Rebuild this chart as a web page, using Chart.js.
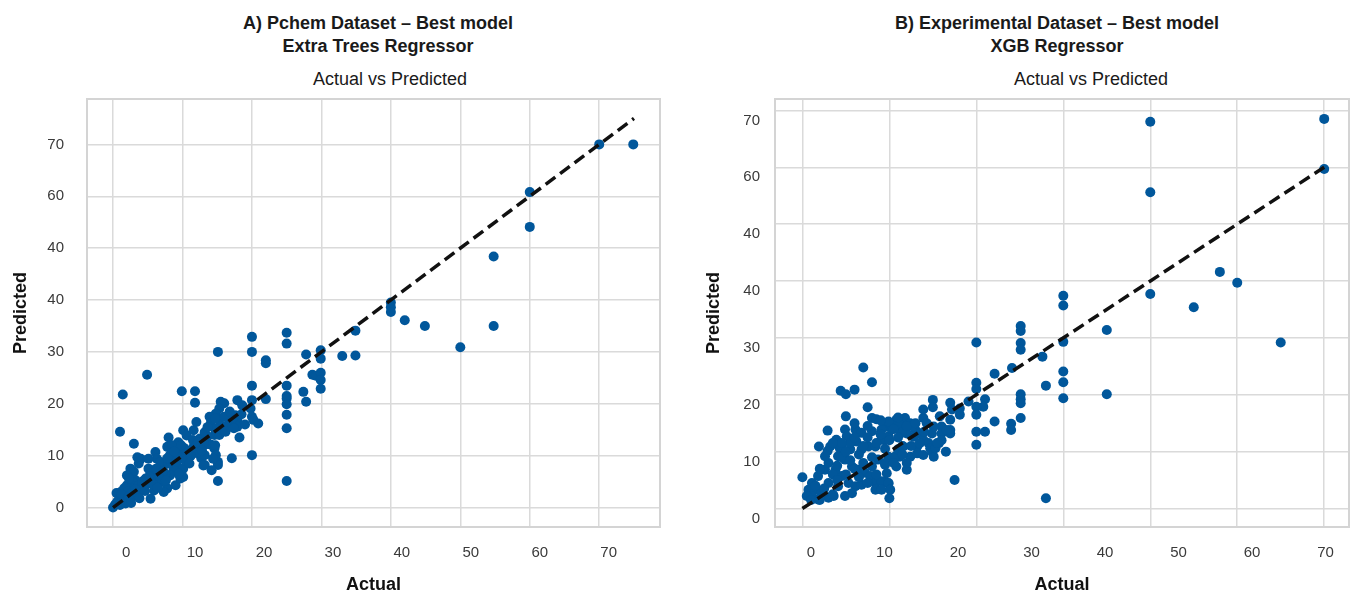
<!DOCTYPE html>
<html>
<head>
<meta charset="utf-8">
<script src="https://cdn.jsdelivr.net/npm/chart.js@4.4.1/dist/chart.umd.min.js"></script>
<style>
  html, body { margin: 0; padding: 0; background: #fff; }
  body { width: 1354px; height: 596px; position: relative; overflow: hidden; font-family: 'Liberation Sans', Arial, sans-serif; }
  canvas { position: absolute; top: 0; }
  .ttl { position: absolute; transform: translateX(-50%); white-space: nowrap; text-align: center; color: #1a1a1a; font-size: 18px; line-height: 23px; }
  .b { font-weight: bold; }
</style>
</head>
<body>
<div class="ttl b" style="left:378px; top:12px;">A) Pchem Dataset – Best model<br>Extra Trees Regressor</div>
<div class="ttl" style="left:390px; top:68px;">Actual vs Predicted</div>
<div class="ttl b" style="left:1057px; top:12px;">B) Experimental Dataset – Best model<br>XGB Regressor</div>
<div class="ttl" style="left:1091px; top:68px;">Actual vs Predicted</div>
<canvas id="cA" width="677" height="596" style="left:0px;"></canvas>
<canvas id="cB" width="677" height="596" style="left:677px;"></canvas>
<script>
// ---------- Panel A: Pchem dataset (Extra Trees Regressor) ----------
const pchemActual = [
  70, 74.9, 60, 60, 54.8, 54.8, 50, 44.9, 42, 40, 40, 40, 34.9, 34.9, 33,
  25, 25, 20, 20, 15.1, 22, 22, 27.8, 29.9, 29.9, 28.7, 29.2, 29.9, 29.9, 29.9,
  27.4, 27.8, 25, 25, 25, 25, 25, 25, 25, 20, 20, 22, 19.8, 20, 20.9, 20.2, 20,
  17.9, 18.6, 17.9, 17.9, 17.6, 15.5, 16, 15.3, 14.8, 15, 17.1, 15.1, 15.1, 15.1,
  13.2, 13.9, 14.1, 14.6, 14.8, 12.7, 13.2, 13.6, 13.2, 14.1, 14.6, 14.8, 15.3,
  15.8, 15.5, 16.2, 16.5, 16.9, 17.2, 17.4,
  4.9, 1.4, 9.9, 11.8, 11.8, 1, 3, 8, 6.1, 4, 3.7, 2.5, 3, 2, 5.1, 5.9, 6.6,
  7.8, 8.2, 9.4, 10.1, 10.6, 11.6, 12, 12.5, 11.6, 10.6, 9.9, 9.2, 8.7, 10.1, 13,
  14.2, 14.4, 14.7, 14.7, 14.7, 5.4, 7.8, 9, 9.7, 10.1, 9.4, 0, 0.6, 0.9, 1.1,
  1.6, 2, 1.3, 1.8, 2.5, 3, 3.5, 4, 4.4, 4.9, 4.7, 4, 3.2, 2.8, 2.3, 3, 3.7, 5.9,
  6.3, 7, 7.3, 8.2, 7.3, 6.3, 6.8, 5.1, 3.5,
  0.5, 1.5, 2.2, 0.3, 1, 2.7, 5.5, 6, 6.5, 7.5, 8, 9, 10.5, 11, 12, 11.5, 13, 12, 9.5, 8.5,
  1.2, 2.2, 3.2, 4.2, 5.2, 6.2, 7.2, 8.2, 9.2, 10.2, 11.2, 12.2, 13.2, 12.8, 11, 9.8,
  8.8, 7.8, 6.8, 5.8, 4.6, 3.8, 2.6, 6.4, 7.6, 13.6, 16, 16.8, 18.5, 19, 18.2
];
const pchemPredicted = [
  70, 70, 60.8, 54.1, 48.4, 35, 30.9, 35, 36.1, 39.5, 38.6, 37.7, 34.1, 29.3, 29.2,
  33.7, 31.6, 32.9, 30, 30, 28.4, 27.8, 29.5, 30.3, 28.7, 25.6, 25.4, 26, 24.6, 22.9,
  22.3, 20.4, 23.5, 21.5, 21, 19.9, 17.9, 15.3, 5.1, 23.5, 20.7, 20.9, 19.1, 17.5, 16.2, 16.9, 10.1,
  20.7, 19.7, 16.9, 15.6, 17.8, 20.4, 20.1, 19.1, 18.1, 17.2, 9.5, 8.8, 8.2, 5.1,
  8.2, 17.5, 16.4, 11.4, 10.1, 9.5, 12.1, 13.7, 10.1, 12.1, 14, 14.6, 14,
  14.9, 15.9, 14.6, 15.9, 16.5, 17.2, 15.3,
  25.6, 21.8, 22.4, 22.4, 20.2, 14.6, 12.3, 13.5, 10.7, 9.4, 8.5, 7.5, 6.9, 6.2, 7.5, 6.9, 6.2,
  11.7, 10.1, 12.6, 14.9, 13.9, 14.9, 16.5, 13.3, 11.7, 10.7, 9.4, 8.1, 7.2, 7.5, 8.1,
  7.2, 9.4, 12, 15.2, 17.1, 1.7, 3.7, 4.3, 5.6, 5.9, 6.5, 0, 1.1, 2.1, 3,
  3.7, 4.3, 1.4, 0.8, 1.7, 2.4, 3, 3.3, 4, 4.6, 5.6, 4.6, 5.3, 4.9, 5.6, 3.7, 4.3, 3.3,
  4.3, 4.9, 3, 6.2, 8.1, 9.4, 8.8, 9.4, 9.7,
  2.8, 2.2, 3.1, 0.6, 0.5, 2.9, 5, 5.5, 7, 6.5, 8.5, 9.5, 9, 11, 10.5, 13, 12.5, 12, 11, 12,
  2.5, 2, 3.5, 5, 6, 7.5, 7, 9, 10.5, 11.5, 10, 12.5, 14.5, 11, 8.5, 12,
  10.8, 9.5, 5.5, 4.5, 3.2, 1.8, 0.9, 3.8, 5.2, 15.5, 17.5, 18.5, 18, 16, 13.5
];
const pchemIdentity = [0, 75];
const gridTicksA = [0, 10, 20, 30, 40, 50, 60, 70];
const xTickLabelsA = ['0', '10', '20', '30', '40', '50', '60', '70'];
const yTickLabelsA = ['0', '10', '20', '30', '40', '40', '60', '70'];

// ---------- Panel B: Experimental dataset (XGB Regressor) ----------
const expActual = [
  60, 60, 40, 40, 48, 50, 40, 45, 30, 30, 35, 30, 27.6, 55, 30, 30, 30, 28, 35, 28,
  25.1, 25.1, 25.1, 25.1, 20, 24.1, 22.1, 20, 20, 25.1, 25.1, 25.1, 25.1, 21, 20.8,
  19.1, 20, 20, 20, 20, 21, 22.1, 24, 24, 18.1, 18.1, 17, 17, 17, 15, 15, 17.5, 10,
  15.8, 16, 14.9, 15.1, 13.9, 12.8, 12, 9.5, 9.9,
  10.8, 11.2, 11.8, 12.4, 13, 13.5, 13.9, 14.5, 14.9, 15.1, 14.3, 13.2, 11.6, 11.2, 10.5,
  10.8, 12.4, 13.2, 13.9, 14.7, 15.3, 15.7, 16, 16.6, 17, 17.2, 13.9, 12.8, 12, 9.7, 9.3, 9.9, 9.7,
  7, 8, 4.4, 5, 6, 7.5, 8, 8.5, 5, 2.9, 1.9, 2.9, 0,
  4.9, 6.1, 5.1, 6.8, 8, 6.2, 4.3, 5.5, 6.8, 7.6, 8.4, 9.1, 9.9, 10.3, 10.7, 11.2, 9.9, 9.1, 11.4,
  4.1, 4.9, 5.7, 6.4, 7.2, 7.8, 8.4, 9.1, 9.9, 2.6, 3, 1.8, 1.1, 0.7, 1.5, 2.2, 3, 1.8, 1.1, 0.5,
  4.5, 5.3, 6.1, 6.8, 4.1, 3.6, 4.9, 5.7, 8, 9.5, 10.7, 11, 8.7, 3.8, 4.5, 3.9, 3.2, 2.6, 8.4, 9.1, 10.1,
  3.5, 4, 4.5, 5, 5.5, 6, 6.5, 7, 7.5, 8, 8.5, 9, 9.5, 10, 10.5, 11, 11.5, 12, 7, 6, 5, 4, 3, 2.5,
  8.5, 9.5, 10.5, 11.5, 12.5, 13.5, 6.5, 7.5, 5.5, 4.5, 3.5, 7.5, 6, 9, 11, 13, 16, 16.5, 15.5, 14, 12,
  2, 1.5, 1, 2, 3.5
];
const expPredicted = [
  68.5, 59.7, 68, 55.6, 41.6, 39.7, 37.7, 35.4, 37.4, 35.7, 31.4, 29.3, 26.7, 29.2, 24.1, 22.2, 19.4, 21.6, 20.1, 1.8,
  32.1, 31.2, 29.1, 27.9, 29.2, 24.7, 23.7, 22.1, 21, 20.1, 19.2, 18.5, 15.9, 19.2, 17.9,
  18.8, 17.9, 16.5, 13.5, 11.2, 13.5, 15.3, 14.9, 13.8, 17.6, 16.5, 18.6, 13.8, 13.2, 19.1, 17.8, 5, 1.8,
  16.2, 14.4, 10, 9.1, 15.9, 14.4, 6.8, 4.7, 4.4,
  15.6, 14.4, 15.9, 15, 13.8, 13.2, 12.1, 11.5, 13.2, 14.4, 15, 10.9, 10.9, 9.1, 8.5,
  7.4, 9.1, 9.7, 9.4, 10.6, 10.6, 11.5, 13.2, 13.8, 15.6, 17.4, 17.4, 12.6, 13.2, 14.4, 12.1, 9.1, 6.2,
  24.8, 22.2, 20.7, 20.1, 20.9, 17.8, 15.9, 15.7, 16.2, 13.7, 10.9, 10.1, 5.5,
  13.9, 13.9, 12.7, 13.3, 13.6, 11.8, 10.6, 10.4, 10.4, 10.9, 10.9, 12.1, 12.7, 13.9, 15, 14.7, 15.3, 13.9, 13.3,
  9.2, 8.6, 7.4, 6.8, 6.3, 5.7, 4.5, 4.8, 4.5, 6.8, 8, 5.7, 4.5, 3.3, 3.3, 2.7, 1.9, 1.6, 2.2, 2.2,
  5.7, 4.5, 3.9, 4.2, 3.9, 2.2, 2.2, 2.7, 7.4, 7.7, 9.2, 10.4, 8.6, 6.8, 10.9, 12.1, 10.9, 9.2, 3.3, 3.3, 3.3,
  6, 7.5, 9, 10, 11.5, 12.5, 9.5, 11, 12.5, 9, 11.5, 13, 10.5, 12, 14, 12.5, 11, 14.5, 8, 7, 6, 5, 4.5, 3.5,
  6, 8, 8, 9.5, 11, 11.5, 5.5, 4.5, 8.5, 11.5, 11.5, 14.5, 15, 15.5, 16, 15, 12, 10, 11.5, 13.5, 8,
  7, 4, 1.5, 1.5, 2.5
];
const expIdentity = [0, 60];
const gridTicksBx = [0, 10, 20, 30, 40, 50, 60];
const gridTicksBy = [0, 10, 20, 30, 40, 50, 60, 70];
const labelTicksB = [0, 10, 20, 30, 40, 50, 60, 70];
const xTickLabelsB = ['0', '10', '20', '30', '40', '50', '60', '70'];
const yTickLabelsB = ['0', '10', '20', '30', '40', '40', '60', '70'];

// ---------- styling ----------
const BLUE = '#01579b';
const GRID = '#dadada';
const TICK = '#3a3a3a';
Chart.defaults.font.family = "'Liberation Sans', Arial, sans-serif";

const frame = {
  id: 'frame',
  beforeDatasetsDraw(chart) {
    const a = chart.chartArea, c = chart.ctx;
    c.save();
    c.strokeStyle = '#d4d4d4';
    c.lineWidth = 2;
    c.strokeRect(a.left, a.top, a.right - a.left, a.bottom - a.top);
    c.restore();
  }
};

function pts(xs, ys) { return xs.map((x, i) => ({ x: x, y: ys[i] })); }
function setTicks(vals) { return s => { s.ticks = vals.map(v => ({ value: v })); }; }

function makeChart(id, cfg) {
  return new Chart(document.getElementById(id), {
    type: 'scatter',
    data: {
      datasets: [
        { type: 'line', data: pts(cfg.identity, cfg.identity), borderColor: '#111', borderWidth: 3.5,
          borderDash: [12, 6], pointRadius: 0, fill: false, order: 0 },
        { data: pts(cfg.xs, cfg.ys), backgroundColor: BLUE, borderWidth: 0, pointRadius: 5, order: 1 }
      ]
    },
    options: {
      responsive: false,
      animation: false,
      events: [],
      layout: { padding: { top: 99, right: cfg.padRight, bottom: 0, left: 0 } },
      plugins: { legend: { display: false }, tooltip: { enabled: false } },
      scales: {
        x: {
          type: 'linear', position: 'bottom', min: cfg.xMin, max: cfg.xMax,
          afterBuildTicks: setTicks(cfg.gridX),
          ticks: { display: false },
          grid: { color: GRID, lineWidth: 1.5, drawTicks: false },
          border: { display: false },
          afterFit: s => { s.height = 0; }
        },
        xl: {
          type: 'linear', position: 'bottom', min: cfg.xlMin, max: cfg.xlMax,
          afterBuildTicks: setTicks(cfg.labelX),
          ticks: { callback: (v, i) => cfg.xLabels[i], padding: 17, color: TICK, font: { size: 15 }, maxRotation: 0, autoSkip: false },
          grid: { display: false, drawTicks: false },
          border: { display: false },
          title: { display: true, text: 'Actual', color: '#111', font: { size: 18, weight: 'bold' }, padding: { top: 0, bottom: 0 } },
          afterFit: s => { s.height = 69; }
        },
        y: {
          type: 'linear', position: 'left', min: cfg.yMin, max: cfg.yMax,
          afterBuildTicks: setTicks(cfg.gridY),
          ticks: { callback: (v, i) => cfg.yLabels[i], padding: cfg.yPad, labelOffset: cfg.yLabelOffset, color: TICK, font: { size: 15 }, autoSkip: false },
          grid: { color: GRID, lineWidth: 1.5, drawTicks: false },
          border: { display: false },
          title: { display: true, text: 'Predicted', color: '#111', font: { size: 18, weight: 'bold' }, padding: { top: cfg.yTitlePad, bottom: 0 } },
          afterFit: s => { s.width = cfg.yWidth; }
        }
      }
    },
    plugins: [frame]
  });
}

makeChart('cA', {
  xs: pchemActual, ys: pchemPredicted, identity: pchemIdentity,
  xMin: -3.75, xMax: 78.75, yMin: -3.75, yMax: 78.75,
  xlMin: -5.67, xlMax: 77.44,
  gridX: gridTicksA, gridY: gridTicksA, labelX: gridTicksA,
  xLabels: xTickLabelsA, yLabels: yTickLabelsA,
  padRight: 17, yWidth: 87, yPad: 23, yLabelOffset: 0, yTitlePad: 10
});

makeChart('cB', {
  xs: expActual, ys: expPredicted, identity: expIdentity,
  xMin: -3.15, xMax: 62.85, yMin: -3.25, yMax: 72,
  xlMin: -4.89, xlMax: 73.19,
  gridX: gridTicksBx, gridY: gridTicksBy, labelX: labelTicksB,
  xLabels: xTickLabelsB, yLabels: yTickLabelsB,
  padRight: 3, yWidth: 98, yPad: 15, yLabelOffset: 10, yTitlePad: 26
});
</script>
</body>
</html>
